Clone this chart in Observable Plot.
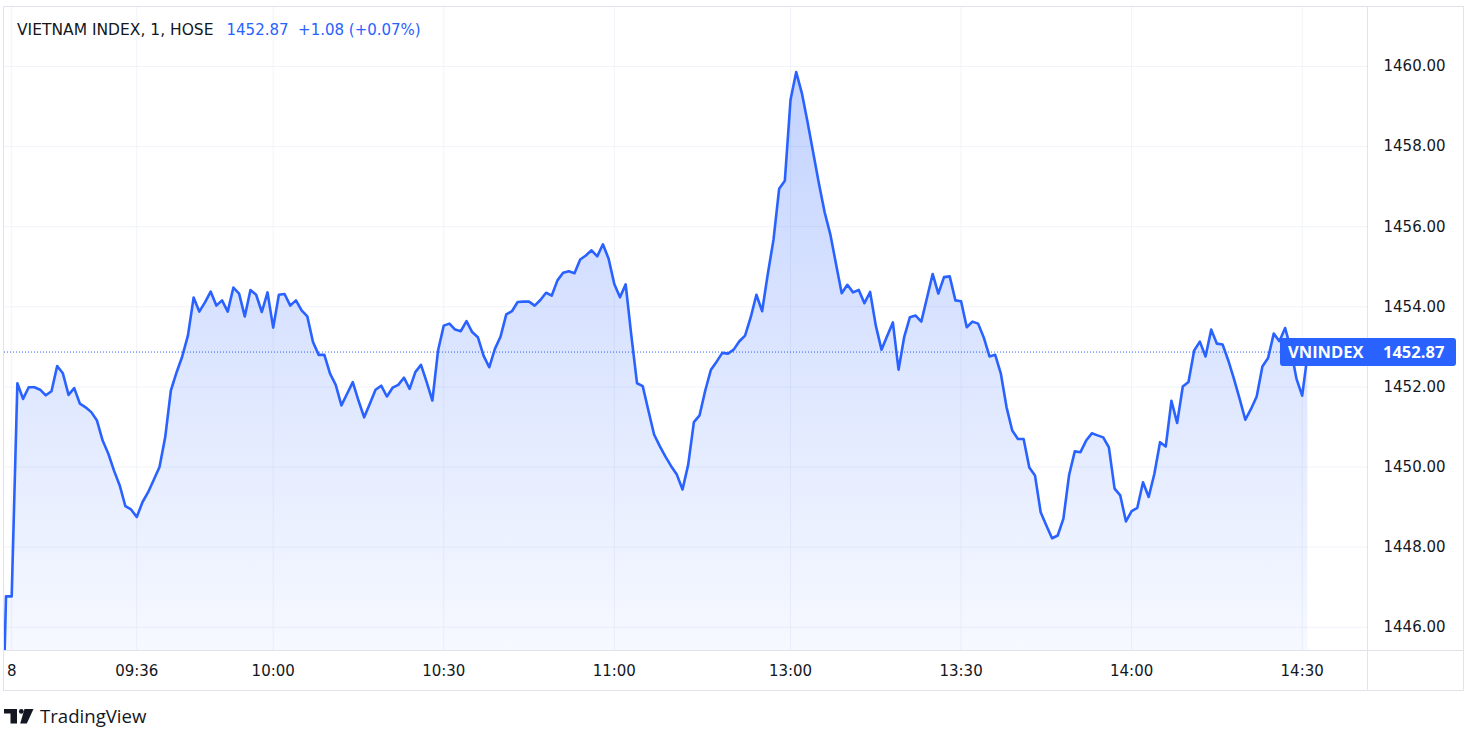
<!DOCTYPE html>
<html>
<head>
<meta charset="utf-8">
<script src="https://cdn.jsdelivr.net/npm/d3@7"></script>
<script src="https://cdn.jsdelivr.net/npm/@observablehq/plot@0.6"></script>
<style>
  html, body { margin: 0; padding: 0; background: #ffffff; }
  #wrap { position: relative; width: 1478px; height: 744px; font-family: "DejaVu Sans", sans-serif; }
  #chart svg { display: block; }
  #logo { position: absolute; left: 4px; top: 705px; height: 22px; display: flex; align-items: center; gap: 6px; color: #131722; }
  #logo span { font-family: "Open Sans", sans-serif; font-size: 18.6px; line-height: 22px; }
</style>
</head>
<body>
<div id="wrap">
  <div id="chart"></div>
  <div id="logo">
    <svg width="30" height="15" viewBox="0 0 30 15"><path d="M0 0H13V14.5H6.5V4.6H0Z" fill="#131722"/><circle cx="17.3" cy="2.4" r="2.4" fill="#131722"/><path d="M20.5 0H29.5L22.8 14.5H16.2Z" fill="#131722"/></svg>
    <span>TradingView</span>
  </div>
</div>
<script>
// ---------------- DATA ----------------
const symbolTitle = "VIETNAM INDEX, 1, HOSE";
const quoteText = "1452.87  +1.08 (+0.07%)";
const seriesName = "VNINDEX";

const morningStart = "09:12";     // 1-minute bars, morning session
const morningValues = [
  1441.00, 1446.77, 1446.77, 1452.09, 1451.70, 1451.99, 1451.99, 1451.93, 1451.79, 1451.89,
  1452.52, 1452.34, 1451.80, 1451.97, 1451.58, 1451.49, 1451.37, 1451.16, 1450.66, 1450.33,
  1449.91, 1449.54, 1449.02, 1448.94, 1448.75, 1449.12, 1449.37, 1449.68, 1450.00, 1450.74,
  1451.91, 1452.36, 1452.76, 1453.28, 1454.23, 1453.88, 1454.11, 1454.38, 1454.03, 1454.16,
  1453.88, 1454.48, 1454.33, 1453.76, 1454.42, 1454.30, 1453.87, 1454.36, 1453.48, 1454.30,
  1454.32, 1454.03, 1454.16, 1453.91, 1453.76, 1453.12, 1452.80, 1452.80, 1452.33, 1452.05,
  1451.54, 1451.83, 1452.12, 1451.66, 1451.24, 1451.58, 1451.93, 1452.03, 1451.76, 1451.98,
  1452.05, 1452.23, 1451.95, 1452.37, 1452.55, 1452.12, 1451.66, 1452.91, 1453.53, 1453.58,
  1453.43, 1453.39, 1453.64, 1453.37, 1453.24, 1452.78, 1452.49, 1452.95, 1453.26, 1453.81,
  1453.89, 1454.12, 1454.13, 1454.13, 1454.03, 1454.17, 1454.35, 1454.28, 1454.66, 1454.85,
  1454.89, 1454.84, 1455.18, 1455.28, 1455.41, 1455.26, 1455.56, 1455.20, 1454.57, 1454.24,
  1454.56, 1453.28, 1452.09, 1452.02, 1451.41, 1450.81, 1450.52, 1450.26, 1450.02, 1449.81,
  1449.44, 1450.06, 1451.12, 1451.29, 1451.91, 1452.43, 1452.63, 1452.85, 1452.83, 1452.93,
  1453.14, 1453.28, 1453.74, 1454.30, 1453.89, 1454.82, 1455.67, 1456.95, 1457.15
];
const afternoonStart = "13:00";   // 1-minute bars, afternoon session
const afternoonValues = [
  1459.17, 1459.86, 1459.33, 1458.61, 1457.84, 1457.07, 1456.36, 1455.81, 1455.07, 1454.34,
  1454.55, 1454.36, 1454.42, 1454.09, 1454.37, 1453.53, 1452.93, 1453.27, 1453.61, 1452.43,
  1453.25, 1453.74, 1453.78, 1453.63, 1454.22, 1454.82, 1454.33, 1454.74, 1454.76, 1454.16,
  1454.14, 1453.49, 1453.63, 1453.58, 1453.23, 1452.76, 1452.80, 1452.33, 1451.49, 1450.91,
  1450.70, 1450.70, 1449.99, 1449.79, 1448.87, 1448.54, 1448.22, 1448.29, 1448.71, 1449.80,
  1450.39, 1450.37, 1450.66, 1450.84, 1450.79, 1450.74, 1450.49, 1449.46, 1449.29, 1448.64,
  1448.90, 1448.98, 1449.62, 1449.25, 1449.83, 1450.62, 1450.51, 1451.65, 1451.10, 1452.01,
  1452.12, 1452.91, 1453.13, 1452.76, 1453.43, 1453.08, 1453.06, 1452.66, 1452.20, 1451.70,
  1451.18, 1451.45, 1451.76, 1452.51, 1452.72, 1453.33, 1453.14, 1453.47, 1452.95, 1452.20,
  1451.78
];
const closeTime = "14:45";        // ATC bar
const closeValue = 1452.87;

const yTicks = [1446, 1448, 1450, 1452, 1454, 1456, 1458, 1460];
const xTickTimes  = ["09:14", "09:36", "10:00", "10:30", "11:00", "13:00", "13:30", "14:00", "14:30"];
const xTickLabels = ["8",     "09:36", "10:00", "10:30", "11:00", "13:00", "13:30", "14:00", "14:30"];

// ---------------- BUILD ROWS ----------------
const toMin = s => { const [h, m] = s.split(":").map(Number); return h * 60 + m; };
const toStr = m => String(Math.floor(m / 60)).padStart(2, "0") + ":" + String(m % 60).padStart(2, "0");
const rows = [];
morningValues.forEach((v, k) => rows.push({ time: toStr(toMin(morningStart) + k), value: v }));
afternoonValues.forEach((v, k) => rows.push({ time: toStr(toMin(afternoonStart) + k), value: v }));
rows.push({ time: closeTime, value: closeValue });
rows.forEach((r, i) => r.i = i);            // bar index (session gaps skipped)
const idxOf = t => rows.find(r => r.time === t).i;
const xTicks = xTickTimes.map((t, k) => ({ i: idxOf(t), label: xTickLabels[k] }));

const BLUE = "#2962ff", TEXT = "#131722", GRID = "#f0f3fa", BORDER = "#e0e3eb";
const FONT = "'DejaVu Sans', sans-serif";

// gradient definition for the area
const gradientDefs = (index, scales, values, dim) => {
  const defs = d3.create("svg:defs");
  const g = defs.append("linearGradient").attr("id", "vnGrad")
    .attr("gradientUnits", "userSpaceOnUse")
    .attr("x1", 0).attr("x2", 0)
    .attr("y1", scales.y(d3.max(rows, d => d.value)))
    .attr("y2", dim.height - dim.marginBottom);
  g.append("stop").attr("offset", 0).attr("stop-color", BLUE).attr("stop-opacity", 0.28);
  g.append("stop").attr("offset", 1).attr("stop-color", BLUE).attr("stop-opacity", 0.04);
  return defs.node();
};

// pane borders and separators
const chrome = (index, scales, values, dim) => {
  const xl = dim.marginLeft - 0.5, xr = dim.width - dim.marginRight + 0.5;
  const yt = dim.marginTop + 0.5, yb = dim.height - dim.marginBottom + 0.5;
  const outerR = xr + 96, outerB = yb + 40;
  const g = d3.create("svg:g").attr("stroke", BORDER).attr("fill", "none").attr("stroke-width", 1);
  g.append("rect").attr("x", xl).attr("y", yt).attr("width", outerR - xl).attr("height", outerB - yt);
  g.append("line").attr("x1", xr).attr("x2", xr).attr("y1", yt).attr("y2", outerB);
  g.append("line").attr("x1", xl).attr("x2", outerR).attr("y1", yb).attr("y2", yb);
  return g.node();
};

// last price label on the price scale
const priceLabel = (index, scales, values, dim) => {
  const y = Math.round(scales.y(closeValue));
  const xr = dim.width - dim.marginRight;
  const g = d3.create("svg:g").attr("font-family", "'Open Sans', sans-serif").attr("font-weight", 700)
    .attr("font-size", 16.5).attr("text-anchor", "start");
  g.append("rect").attr("x", xr - 87).attr("y", y - 14).attr("width", 176).attr("height", 28)
    .attr("rx", 3).attr("fill", BLUE);
  g.append("text").attr("x", xr - 79).attr("y", y).attr("dy", "0.36em").attr("fill", "#fff").text(seriesName);
  g.append("text").attr("x", xr + 16).attr("y", y).attr("dy", "0.36em").attr("fill", "#fff").text(closeValue.toFixed(2));
  return g.node();
};

const chart = Plot.plot({
  width: 1478,
  height: 700,
  marginLeft: 4,
  marginRight: 111,
  marginTop: 6,
  marginBottom: 50,
  x: { domain: [0.736, 240.49], axis: null },
  y: { domain: [1445.418, 1461.498], axis: null },
  style: { fontFamily: FONT, background: "#ffffff", overflow: "visible" },
  marks: [
    gradientDefs,
    Plot.ruleY(yTicks, { stroke: GRID, strokeWidth: 1 }),
    Plot.ruleX(xTicks, { x: "i", stroke: GRID, strokeWidth: 1 }),
    Plot.areaY(rows, { x: "i", y1: 1445.418, y2: "value", fill: "url(#vnGrad)", clip: true }),
    Plot.lineY(rows, { x: "i", y: "value", stroke: BLUE, strokeWidth: 2.6, strokeLinejoin: "round", clip: true }),
    Plot.ruleY([closeValue], { stroke: BLUE, strokeWidth: 1, strokeDasharray: "1 2" }),
    chrome,
    Plot.text(yTicks, { y: d => d, frameAnchor: "right", dx: 16, textAnchor: "start", text: d => d.toFixed(2), fontSize: 15, fill: TEXT }),
    Plot.text(xTicks, { x: "i", frameAnchor: "bottom", dy: 21, lineAnchor: "middle", text: "label", fontSize: 15, fill: TEXT }),
    Plot.text([symbolTitle], { frameAnchor: "top-left", dx: 12.5, dy: 24, lineAnchor: "middle", textAnchor: "start", fontSize: 15.5, fill: TEXT }),
    Plot.text([quoteText], { frameAnchor: "top-left", dx: 222, dy: 24, lineAnchor: "middle", textAnchor: "start", fontSize: 15, fill: BLUE }),
    priceLabel
  ]
});
document.getElementById("chart").appendChild(chart);
</script>
</body>
</html>
